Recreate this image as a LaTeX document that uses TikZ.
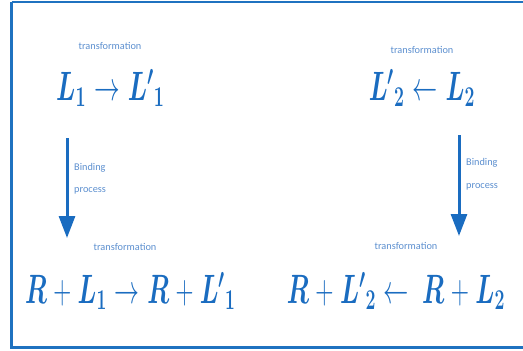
\RequirePackage{fix-cm}
\documentclass[tikz,border=0pt]{standalone}
\usepackage{graphicx}
\usepackage{fontspec}
\newfontfamily\lblfont{Carlito}
\usetikzlibrary{arrows.meta}
\definecolor{mathblue}{HTML}{1A6CC0}
\definecolor{lblblue}{HTML}{5C8FCF}
\definecolor{frameblue}{HTML}{1F72C0}
\newcommand{\fitw}[2]{\resizebox{#1}{\height}{\boldmath$#2$}}
\newcommand{\pl}{\mathbin{\mbox{\unboldmath$+$}}}
\newcommand{\ra}{\mathrel{\mbox{\unboldmath$\rightarrow$}}}
\newcommand{\la}{\mathrel{\mbox{\unboldmath$\leftarrow$}}}
\tikzset{
  formula/.style={text=mathblue, inner sep=0pt, font=\fontsize{41}{44}\selectfont},
  lbl/.style={text=lblblue, inner sep=0pt, font=\lblfont\fontsize{10.3}{12}\selectfont},
  bindarrow/.style={draw=mathblue, line width=3pt, -{Triangle[width=16pt,length=22pt]}, fill=mathblue}
}
\begin{document}
\begin{tikzpicture}[x=1pt,y=-1pt]
\useasboundingbox (0,0) rectangle (523,351);
\draw[frameblue, line width=2.5pt] (11.5,2) -- (530,2) (11.5,2) -- (11.5,347.5) -- (530,347.5);
% top formulas
\node[formula, anchor=base west] (f1) at (56,100) {\fitw{108pt}{L_1 \ra {L'}_1}};
\node[formula, anchor=base east] (f2) at (475,100) {\fitw{106pt}{{L'}_2 \la L_2}};
\node[lbl] (t1) at (110,46) {transformation};
\node[lbl] (t2) at (422,50) {transformation};
% bottom formulas
\node[formula, anchor=base west] (f3) at (25,303) {\fitw{210pt}{R \pl L_1 \ra R \pl {L'}_1}};
\node[formula, anchor=base east] (f4) at (505,303) {\fitw{218pt}{R \pl {L'}_2 \la\, R \pl L_2}};
\node[lbl] (t3) at (125,247) {transformation};
\node[lbl] (t4) at (406,246) {transformation};
% arrows
\coordinate (a1s) at (67,138);
\coordinate (a1e) at (67,238);
\coordinate (a2s) at (459,135);
\coordinate (a2e) at (459,236);
\draw[bindarrow] (a1s) -- (a1e);
\draw[bindarrow] (a2s) -- (a2e);
\node[lbl, anchor=west] (b1) at (74,168) {Binding};
\node[lbl, anchor=west] (p1) at (74,191) {process};
\node[lbl, anchor=west] (b2) at (466,163) {Binding};
\node[lbl, anchor=west] (p2) at (466,187) {process};
\end{tikzpicture}
\end{document}
